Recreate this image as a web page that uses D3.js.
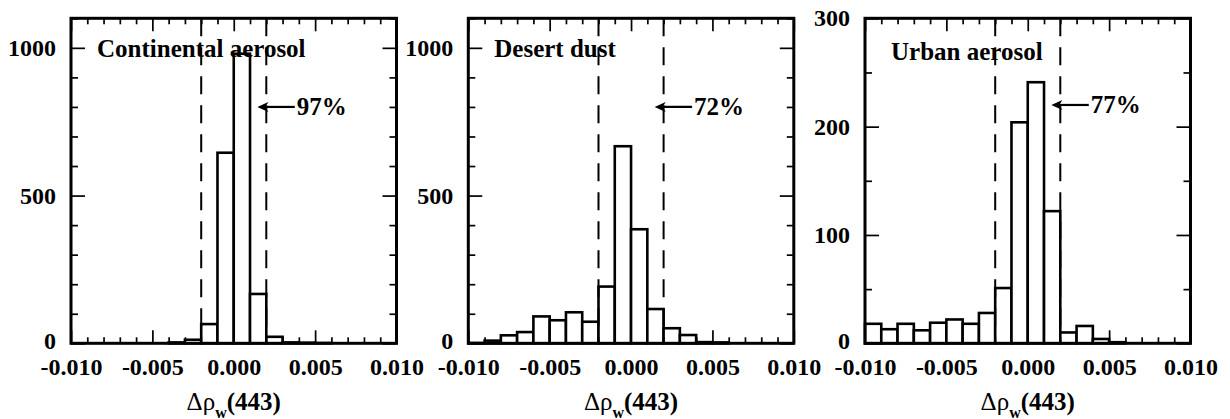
<!DOCTYPE html>
<html><head><meta charset="utf-8">
<script src="https://cdn.jsdelivr.net/npm/d3@7"></script>
<style>
body{margin:0;background:#fff}
svg{display:block}
text{font-family:"Liberation Serif","Times New Roman",serif;font-weight:bold;fill:#000}
</style></head><body>
<svg id="chart" width="1230" height="419"></svg>
<script>
// Histogram bins: 20 bins of width 0.001 from -0.010 to 0.010
const binStart = -0.010;
const binWidth = 0.001;
const continentalCounts = [0,0,0,0,0,0,3,12,65,645,980,167,22,3,2,1,0,0,0,0];
const desertCounts      = [1,9,27,38,91,78,105,73,192,667,386,116,51,28,4,3,0,0,0,0];
const urbanCounts       = [18,13,18,12,19,22,18,28,51,204,241,122,10,16,4,1,0,0,0,0];

const panelTitles = ["Continental aerosol", "Desert dust", "Urban aerosol"];
const withinPercents = ["97%", "72%", "77%"];
const xMajorTicks = [-0.010, -0.005, 0.000, 0.005, 0.010];
const xMinorTicks = d3.range(-9, 10).map(i => i * 0.001);
const yMajorTicksDense = [0, 500, 1000];
const yMajorTicksUrban = [0, 100, 200, 300];
const boundLimits = [-0.002, 0.002];
const arrowTip = 0.00145, arrowTail = 0.00375;
const arrowLevels = [800, 800, 220];

const panels = [
  {counts: continentalCounts, left: 71,    yMax: 1100, yMajor: yMajorTicksDense, yMinorStep: 100, titleDy: 39},
  {counts: desertCounts,      left: 468.3, yMax: 1100, yMajor: yMajorTicksDense, yMinorStep: 100, titleDy: 39},
  {counts: urbanCounts,       left: 865,   yMax: 300,  yMajor: yMajorTicksUrban, yMinorStep: 50,  titleDy: 42}
];
const frameW = 325.5, plotTop = 18.3, plotBottom = 343.3;
const hyphenFmt = f => d => d3.format(f)(d).replace("\u2212", "-");

const svg = d3.select("#chart");

panels.forEach((p, k) => {
  const x = d3.scaleLinear().domain([-0.010, 0.010]).range([p.left, p.left + frameW]);
  const y = d3.scaleLinear().domain([0, p.yMax]).range([plotBottom, plotTop]);
  const g = svg.append("g");

  const yMinor = d3.range(0, p.yMax + 1e-9, p.yMinorStep).filter(v => !p.yMajor.includes(v));
  const xMinor = xMinorTicks.filter(v => !xMajorTicks.some(m => Math.abs(m - v) < 1e-9));

  // inward ticks on all four sides
  const tickAxis = (axisFn, scale, vals, size, transform) => {
    const a = g.append("g").attr("transform", transform)
      .call(axisFn(scale).tickValues(vals).tickSize(size).tickFormat(""));
    a.select(".domain").remove();
    a.selectAll("line").attr("stroke", "#000").attr("stroke-width", 1.7);
  };
  tickAxis(d3.axisBottom, x, xMinor, -6, `translate(0,${plotBottom})`);
  tickAxis(d3.axisTop, x, xMinor, -6, `translate(0,${plotTop})`);
  tickAxis(d3.axisBottom, x, xMajorTicks, -13, `translate(0,${plotBottom})`);
  tickAxis(d3.axisTop, x, xMajorTicks, -13, `translate(0,${plotTop})`);
  tickAxis(d3.axisLeft, y, yMinor, -7, `translate(${p.left},0)`);
  tickAxis(d3.axisRight, y, yMinor, -7, `translate(${p.left + frameW},0)`);
  tickAxis(d3.axisLeft, y, p.yMajor, -14, `translate(${p.left},0)`);
  tickAxis(d3.axisRight, y, p.yMajor, -14, `translate(${p.left + frameW},0)`);

  // tick labels
  const xl = g.append("g").attr("transform", `translate(0,${plotBottom + 2})`)
    .call(d3.axisBottom(x).tickValues(xMajorTicks).tickSize(0).tickPadding(13).tickFormat(hyphenFmt(".3f")));
  xl.select(".domain").remove();
  xl.attr("font-family", null).attr("font-size", 24);

  const yl = g.append("g").attr("transform", `translate(${p.left},0)`)
    .call(d3.axisLeft(y).tickValues(p.yMajor).tickSize(0).tickPadding(15).tickFormat(d3.format("d")));
  yl.select(".domain").remove();
  yl.attr("font-family", null).attr("font-size", 24);
  yl.selectAll(".tick").filter(d => d === 0).select("text").attr("dy", "0.22em");

  // histogram bars
  const bins = p.counts.map((c, i) => ({x0: binStart + i * binWidth, x1: binStart + (i + 1) * binWidth, c}))
    .filter(b => b.c > 0);
  g.selectAll("rect.bar").data(bins).enter().append("rect")
    .attr("class", "bar")
    .attr("x", d => x(d.x0)).attr("width", d => x(d.x1) - x(d.x0))
    .attr("y", d => y(d.c)).attr("height", d => y(0) - y(d.c))
    .attr("fill", "#fff").attr("stroke", "#000").attr("stroke-width", 2.6);

  // dashed bounds
  g.selectAll("line.bound").data(boundLimits).enter().append("line")
    .attr("class", "bound")
    .attr("x1", d => x(d)).attr("x2", d => x(d))
    .attr("y1", plotTop).attr("y2", plotBottom)
    .attr("stroke", "#000").attr("stroke-width", 2).attr("stroke-dasharray", "18,11");

  // frame
  g.append("rect").attr("x", p.left).attr("y", plotTop).attr("width", frameW).attr("height", plotBottom - plotTop)
    .attr("fill", "none").attr("stroke", "#000").attr("stroke-width", 3);

  // panel title
  g.append("text").attr("x", p.left + 26).attr("y", plotTop + p.titleDy)
    .attr("font-size", 25).text(panelTitles[k]);

  // arrow with percentage
  const ay = y(arrowLevels[k]);
  const tx = x(arrowTip);
  g.append("line").attr("x1", x(arrowTail)).attr("x2", tx + 6)
    .attr("y1", ay).attr("y2", ay).attr("stroke", "#000").attr("stroke-width", 2.2);
  g.append("path").attr("d", `M${tx},${ay} L${tx + 11},${ay - 5} L${tx + 8},${ay} L${tx + 11},${ay + 5} Z`)
    .attr("fill", "#000");
  g.append("text").attr("x", x(arrowTail) + 2).attr("y", ay + 8.5)
    .attr("font-size", 25).text(withinPercents[k]);

  // x axis title
  const t = g.append("text").attr("x", x(0)).attr("y", 409.5).attr("text-anchor", "middle").attr("font-size", 25);
  t.append("tspan").style("font-weight", "normal").text("Δρ");
  t.append("tspan").attr("font-size", 16).attr("dy", 8).text("w");
  t.append("tspan").attr("dy", -8).text("(443)");
});
</script>
</body></html>
